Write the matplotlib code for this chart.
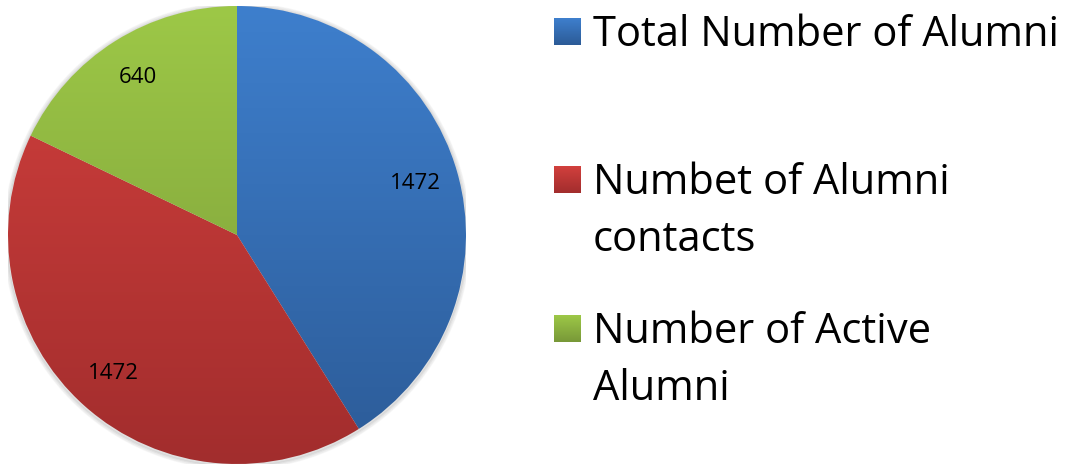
import matplotlib
matplotlib.use("Agg")
import matplotlib.pyplot as plt
import numpy as np
from matplotlib.colors import LinearSegmentedColormap

categories = ["Total Number of Alumni", "Numbet of Alumni\ncontacts", "Number of Active\nAlumni"]
values = [1472, 1472, 640]
top_colors = ["#3E7FCD", "#D2403D", "#9DC847"]
bottom_colors = ["#2C5B97", "#A22D2D", "#789838"]

plt.rcParams['font.family'] = ['Open Sans', 'DejaVu Sans']

W, H = 1068, 470
fig = plt.figure(figsize=(W / 100, H / 100), dpi=100)
cx, cy, r = 237, 235, 229
ax = fig.add_axes([(cx - r) / W, (H - cy - r) / H, 2 * r / W, 2 * r / H])
ax.set_xlim(-1, 1)
ax.set_ylim(-1, 1)
ax.set_aspect('equal')
ax.axis('off')

# soft shadow
for i, a in enumerate([0.05, 0.04, 0.03]):
    sh = plt.Circle((0.0, -0.005), 1.0 + 0.006 * (i + 1), color='black', alpha=a, zorder=0)
    ax.add_patch(sh)

wedges, texts, autotexts = ax.pie(
    values, startangle=90, counterclock=False, radius=1.0,
    autopct=lambda p: f"{p * sum(values) / 100:.0f}", pctdistance=0.81,
    wedgeprops=dict(linewidth=0), textprops=dict(fontsize=16, color='black'))
ax.set_xlim(-1, 1)
ax.set_ylim(-1, 1)

grad = np.linspace(0, 1, 256).reshape(-1, 1)
for w, tc, bc in zip(wedges, top_colors, bottom_colors):
    w.set_facecolor('none')
    cmap = LinearSegmentedColormap.from_list('g', [tc, bc])
    im = ax.imshow(grad, cmap=cmap, extent=[-1, 1, -1, 1], origin='upper',
                   aspect='auto', zorder=1)
    im.set_clip_path(w)

for t in autotexts:
    t.set_zorder(5)

# legend
sq_x = 554
sq = 27
legend_tops = [18, 166, 315]
text_x = 593
for cat, tc, bc, top in zip(categories, top_colors, bottom_colors, legend_tops):
    lax = fig.add_axes([sq_x / W, (H - top - sq) / H, sq / W, sq / H])
    cmap = LinearSegmentedColormap.from_list('g', [tc, bc])
    lax.imshow(grad, cmap=cmap, aspect='auto', extent=[0, 1, 0, 1])
    lax.axis('off')
    fig.text(text_x / W, (H - top + 4) / H, cat, fontsize=30, va='top', ha='left',
             linespacing=1.47)

fig.savefig("out.png", dpi=100)
